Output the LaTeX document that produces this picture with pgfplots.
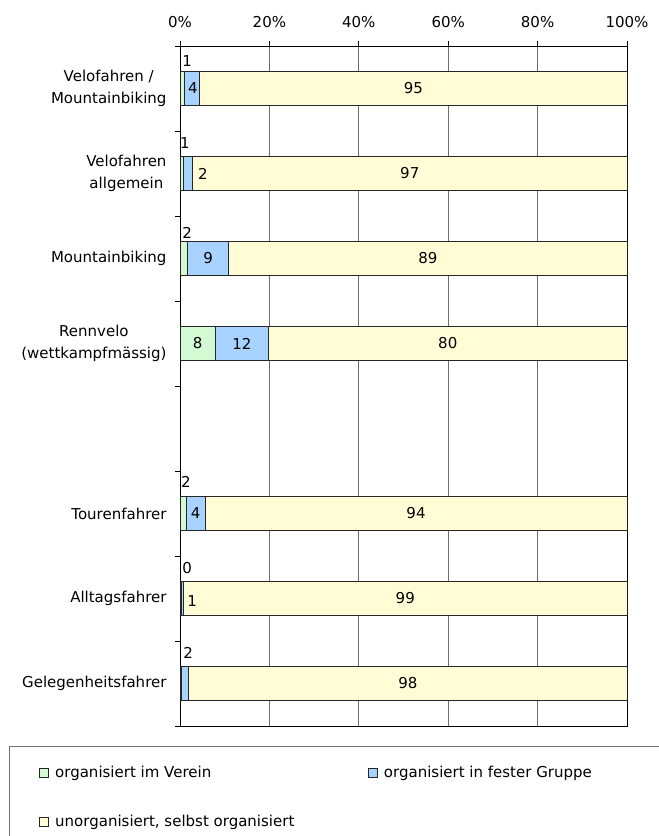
\documentclass[border=0pt]{standalone}
\usepackage{pgfplots}
\pgfplotsset{compat=1.18}
\usepackage{fontspec}
\setmainfont{DejaVu Sans}
\definecolor{cverein}{RGB}{212,250,212}
\definecolor{cgruppe}{RGB}{168,210,255}
\definecolor{cselbst}{RGB}{255,252,214}
\definecolor{cgrid}{RGB}{110,110,110}

\begin{document}
\begin{tikzpicture}[font=\fontsize{15bp}{22bp}\selectfont]
\useasboundingbox (0,0) rectangle (659bp,836bp);
% legend frame, cut by the page edge as in the original
\draw[black!55,line width=1bp] (9bp,89bp) rectangle (700bp,-30bp);
\begin{axis}[
  at={(180bp,110bp)}, anchor=south west,
  scale only axis, width=447bp, height=680bp,
  xbar stacked, bar width=34bp,
  xmin=0, xmax=100, ymin=-0.5, ymax=7.5, y dir=reverse,
  axis line style={black,line width=0.8bp},
  xtick={0,20,...,100},
  xtick pos=right, xticklabel pos=right,
  xticklabel={\pgfmathprintnumber{\tick}\%},
  xticklabel style={yshift=10bp},
  /pgf/number format/assume math mode=true,
  xmajorgrids, major grid style={cgrid,line width=0.8bp},
  ytick={-0.5,0.5,...,7.5}, yticklabels={},
  ytick pos=left,
  extra y ticks={0,1,2,3,5,6,7},
  extra y tick labels={{Velofahren /\\Mountainbiking},{Velofahren\\allgemein},Mountainbiking,{Rennvelo\\(wettkampfmässig)},Tourenfahrer,Alltagsfahrer,Gelegenheitsfahrer},
  extra y tick style={major tick length=0pt, grid=none},
  yticklabel style={align=center, xshift=-10bp},
  tick align=outside, major tick length=5bp,
  tick style={black,line width=0.8bp},
  every axis plot/.append style={draw=black!85,line width=1bp},
  legend columns=2,
  legend cell align=left,
  legend style={draw=none, fill=none, row sep=32bp, inner sep=0pt,
    /tikz/every odd column/.style={column sep=4bp},
    at={(axis description cs:-0.315,-0.056)}, anchor=north west},
  legend image code/.code={\draw[#1,draw=black!85,line width=0.8bp] (0bp,-4.5bp) rectangle (9bp,4.5bp);},
  after end axis/.code={
    \node at (axis cs:1.6,-0.32) {1};
    \node at (axis cs:2.9,0) {4};
    \node at (axis cs:52.2,0) {95};
    \node at (axis cs:1.1,0.64) {1};
    \node at (axis cs:5.1,1) {2};
    \node at (axis cs:51.4,1) {97};
    \node at (axis cs:1.6,1.70) {2};
    \node at (axis cs:6.3,2) {9};
    \node at (axis cs:55.45,2) {89};
    \node at (axis cs:3.95,3) {8};
    \node at (axis cs:13.85,3) {12};
    \node at (axis cs:59.9,3) {80};
    \node at (axis cs:1.3,4.63) {2};
    \node at (axis cs:3.5,5) {4};
    \node at (axis cs:52.8,5) {94};
    \node at (axis cs:1.6,5.64) {0};
    \node at (axis cs:2.7,6.03) {1};
    \node at (axis cs:50.4,6) {99};
    \node at (axis cs:1.8,6.64) {2};
    \node at (axis cs:51,7) {98};
  },
]
\addplot[fill=cverein] coordinates {(0.9,0) (0.7,1) (1.7,2) (7.9,3) (1.4,5) (0.3,6) (0.4,7)};
\addlegendentry{\makebox[311bp][l]{organisiert im Verein}}
\addplot[fill=cgruppe] coordinates {(3.5,0) (2.1,1) (9.2,2) (11.9,3) (4.2,5) (0.5,6) (1.6,7)};
\addlegendentry{organisiert in fester Gruppe}
\addplot[fill=cselbst] coordinates {(95.6,0) (97.2,1) (89.1,2) (80.2,3) (94.4,5) (99.2,6) (98.0,7)};
\addlegendentry{unorganisiert, selbst organisiert}
\end{axis}
\end{tikzpicture}
\end{document}
